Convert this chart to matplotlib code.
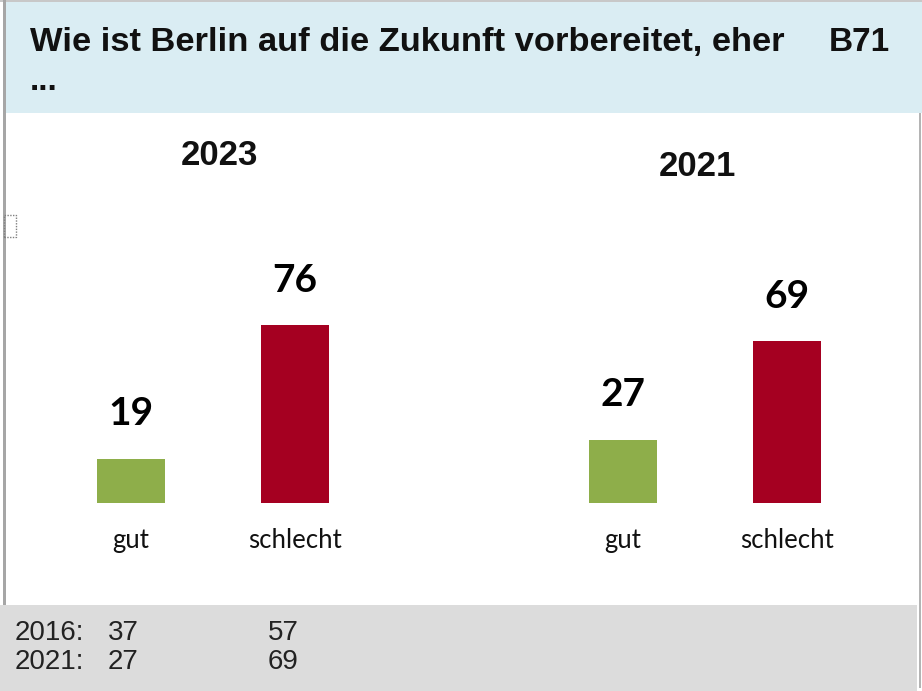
import matplotlib
matplotlib.use("Agg")
import matplotlib.pyplot as plt
from matplotlib.patches import Rectangle

# --- data ---
years = ["2023", "2021"]
categories = ["gut", "schlecht"]
values_2023 = [19, 76]
values_2021 = [27, 69]
history_rows = ["2016:", "2021:"]
history_gut = [37, 27]
history_schlecht = [57, 69]

title = "Wie ist Berlin auf die Zukunft vorbereitet, eher"
title_tag = "B71"

W, H = 922, 691
fig = plt.figure(figsize=(W / 100, H / 100), dpi=100)
fig.patch.set_facecolor("white")


def fx(x):
    return x / W


def fy(y):
    return 1 - y / H


def box(x0, y0, x1, y1, **kw):
    fig.patches.append(Rectangle((fx(x0), fy(y1)), fx(x1) - fx(x0), fy(y0) - fy(y1),
                                 transform=fig.transFigure, **kw))


# header band and footer band
box(0, 0, W, 2, facecolor="#c8c8c8", edgecolor="none")
box(3, 2, W, 113, facecolor="#daedf3", edgecolor="none")
box(0, 605, 917, H, facecolor="#dcdcdc", edgecolor="none")
# frame lines
box(3, 0, 6, 605, facecolor="#a6a6a6", edgecolor="none")
box(919, 113, 921, 688, facecolor="#b4b4b4", edgecolor="none")
# small dotted handle on the left edge
fig.patches.append(Rectangle((fx(4), fy(237)), fx(12), fy(215) - fy(237),
                             transform=fig.transFigure, facecolor="none",
                             edgecolor="#808080", linestyle=(0, (1, 1)), linewidth=1))

# header text
fig.text(fx(30), fy(51), title, fontsize=24.8, fontweight="bold",
         family="Liberation Sans", color="#111111", va="baseline", ha="left")
fig.text(fx(890), fy(51), title_tag, fontsize=24, fontweight="bold",
         family="Liberation Sans", color="#111111", va="baseline", ha="right")
fig.text(fx(30), fy(90), "...", fontsize=24, fontweight="bold",
         family="Liberation Sans", color="#111111", va="baseline", ha="left")

# bar chart: unit spacing of 164 px, first bar centre at x=131 px, baseline at y=503 px
unit = 164.0
x0px = 131.0
base_px = 503.0
top_px = 113.0
px_per_val = 2.342
ax = fig.add_axes([0, fy(base_px), 1, (base_px - top_px) / H])
ax.set_xlim(-x0px / unit, (W - x0px) / unit)
ax.set_ylim(0, (base_px - top_px) / px_per_val)
ax.axis("off")
ax.patch.set_alpha(0)

colors = ["#8eae4a", "#a50021"]
groups = [(0, values_2023), (3, values_2021)]
for start, vals in groups:
    xs = [start + i for i in range(len(vals))]
    bars = ax.bar(xs, vals, width=0.415, color=colors, edgecolor="none")
    for x, v in zip(xs, vals):
        ax.annotate(str(v), (x, v), xytext=(0, 24), textcoords="offset points",
                    ha="center", va="baseline", fontsize=28, fontweight="bold",
                    family="Lato", color="black", annotation_clip=False)
    for x, c in zip(xs, categories):
        ax.annotate(c, (x, 0), xytext=(0, -32.5), textcoords="offset points",
                    ha="center", va="baseline", fontsize=18.5, family="Lato",
                    color="#111111", annotation_clip=False)

# year headings
fig.text(fx(219), fy(165), years[0], fontsize=25, fontweight="bold",
         family="Liberation Sans", ha="center", va="baseline", color="#111111")
fig.text(fx(697), fy(176), years[1], fontsize=25, fontweight="bold",
         family="Liberation Sans", ha="center", va="baseline", color="#111111")

# earlier results in the footer
for i, (lab, g, s) in enumerate(zip(history_rows, history_gut, history_schlecht)):
    yb = 640 + 29 * i
    fig.text(fx(15), fy(yb), lab, fontsize=20, family="Liberation Sans",
             ha="left", va="baseline", color="#222222")
    fig.text(fx(108), fy(yb), str(g), fontsize=20, family="Liberation Sans",
             ha="left", va="baseline", color="#222222")
    fig.text(fx(268), fy(yb), str(s), fontsize=20, family="Liberation Sans",
             ha="left", va="baseline", color="#222222")

fig.savefig("out.png", dpi=100)
